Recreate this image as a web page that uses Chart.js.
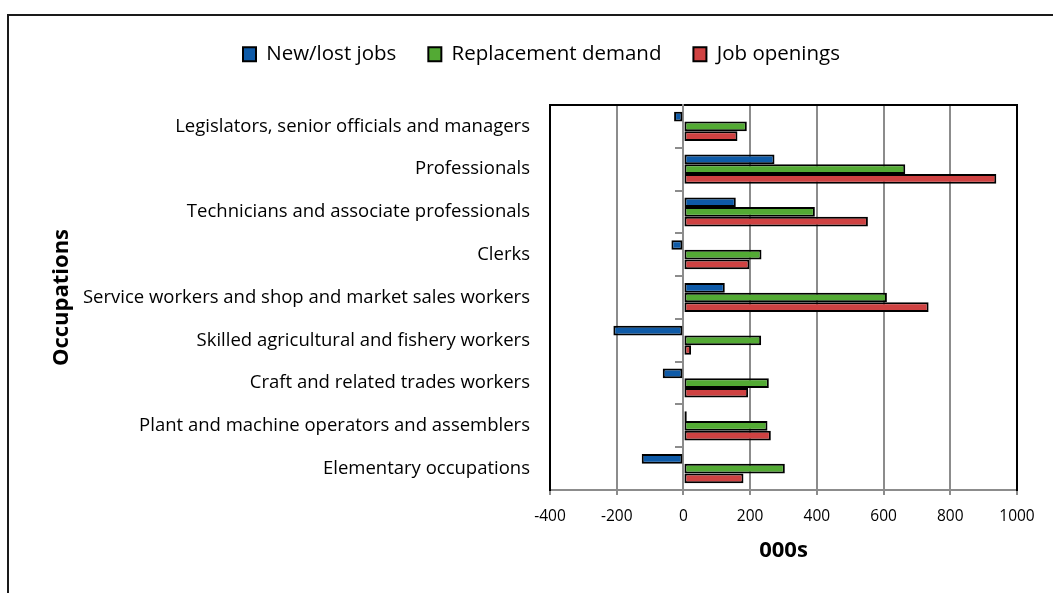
<!DOCTYPE html>
<html>
<head>
<meta charset="utf-8">
<script src="https://cdn.jsdelivr.net/npm/chart.js@4.4.1/dist/chart.umd.min.js"></script>
<style>
html,body{margin:0;padding:0;background:#fff;overflow:hidden}
canvas{display:block}
</style>
</head>
<body>
<canvas id="c" width="1053" height="593"></canvas>
<script>
const categories = [
  'Legislators, senior officials and managers',
  'Professionals',
  'Technicians and associate professionals',
  'Clerks',
  'Service workers and shop and market sales workers',
  'Skilled agricultural and fishery workers',
  'Craft and related trades workers',
  'Plant and machine operators and assemblers',
  'Elementary occupations'
];
const seriesNames = ['New/lost jobs', 'Replacement demand', 'Job openings'];
const newLostJobs       = [-28, 273, 157, -36, 124, -210, -62, 10, -125];
const replacementDemand = [190, 665, 394, 234, 610, 233, 256, 252, 304];
const jobOpenings       = [162, 938, 553, 198, 735, 23, 194, 262, 180];
const xTickLabels = [-400, -200, 0, 200, 400, 600, 800, 1000];
const xAxisTitle = '000s';
const yAxisTitle = 'Occupations';

const FONT = 'Open Sans';
const GRID = '#8c8c8c';

const framePlugin = {
  id: 'frame',
  afterLayout(chart) {
    if (chart.legend) { chart.legend.left += 23; chart.legend.right += 23; }
  },
  beforeDraw(chart) {
    const ctx = chart.ctx;
    ctx.save();
    ctx.fillStyle = '#fff';
    ctx.fillRect(0, 0, chart.width, chart.height);
    ctx.strokeStyle = '#1a1a1a';
    ctx.lineWidth = 2;
    ctx.strokeRect(8, 15, chart.width + 20, chart.height + 20);
    ctx.restore();
  }
};

new Chart(document.getElementById('c'), {
  type: 'bar',
  data: {
    labels: categories,
    datasets: [
      { label: seriesNames[0], data: newLostJobs, backgroundColor: '#0e5aa7' },
      { label: seriesNames[1], data: replacementDemand, backgroundColor: '#53aa34' },
      { label: seriesNames[2], data: jobOpenings, backgroundColor: '#cf4242' }
    ].map(d => Object.assign(d, {
      borderColor: '#000', borderWidth: 2, borderSkipped: false,
      xAxisID: 'x', yAxisID: 'y',
      categoryPercentage: 0.68, barPercentage: 1.0
    }))
  },
  options: {
    indexAxis: 'y',
    responsive: false,
    animation: false,
    layout: { padding: { left: 20, right: 36, top: 12, bottom: 29 } },
    plugins: {
      legend: {
        position: 'top',
        labels: {
          color: '#000',
          font: { family: FONT, size: 20.5 },
          boxWidth: 13, boxHeight: 14,
          padding: 32
        }
      },
      tooltip: { enabled: false }
    },
    scales: {
      x: {
        type: 'linear', position: 'bottom',
        min: xTickLabels[0], max: xTickLabels[xTickLabels.length - 1],
        ticks: {
          stepSize: xTickLabels[1] - xTickLabels[0], color: '#000',
          font: { family: FONT, size: 15.5 }, padding: 12,
          callback: (v) => String(v)
        },
        grid: { color: GRID, lineWidth: 2, tickLength: 5, drawTicks: true },
        border: { display: true, color: GRID, width: 2 },
        title: { display: true, text: xAxisTitle, color: '#000', font: { family: FONT, size: 22, weight: 'bold' }, padding: { top: 12.5, bottom: 0 } },
        afterFit(s) { s.height = 74; }
      },
      xTop: {
        type: 'linear', position: 'top', display: true,
        ticks: { display: false },
        grid: { display: false, drawTicks: false },
        border: { display: true, color: '#000', width: 2 },
        afterFit(s) { s.height = 30.5; }
      },
      y: {
        type: 'category', position: 'left',
        grid: { display: false, drawTicks: false },
        border: { display: true, color: '#000', width: 2 },
        ticks: { color: '#000', font: { family: FONT, size: 18.5 }, padding: 20 },
        title: { display: true, text: yAxisTitle, color: '#000', font: { family: FONT, size: 22, weight: 'bold' }, padding: { top: 29, bottom: 0 } },
        afterFit(s) { s.width = 530; }
      },
      yRight: {
        type: 'category', labels: categories, position: 'right', display: true,
        ticks: { display: false },
        grid: { display: false, drawTicks: false },
        border: { display: true, color: '#000', width: 2 },
        afterFit(s) { s.width = 0; }
      },
      yZero: {
        type: 'category', labels: categories, position: { x: 0 }, display: true, offset: true,
        ticks: { display: false },
        grid: { offset: true, drawOnChartArea: false, drawTicks: true, tickLength: 7, color: GRID, lineWidth: 2 },
        border: { display: true, color: GRID, width: 2 },
        afterFit(s) { s.width = 0; }
      }
    }
  },
  plugins: [framePlugin]
});
</script>
</body>
</html>
